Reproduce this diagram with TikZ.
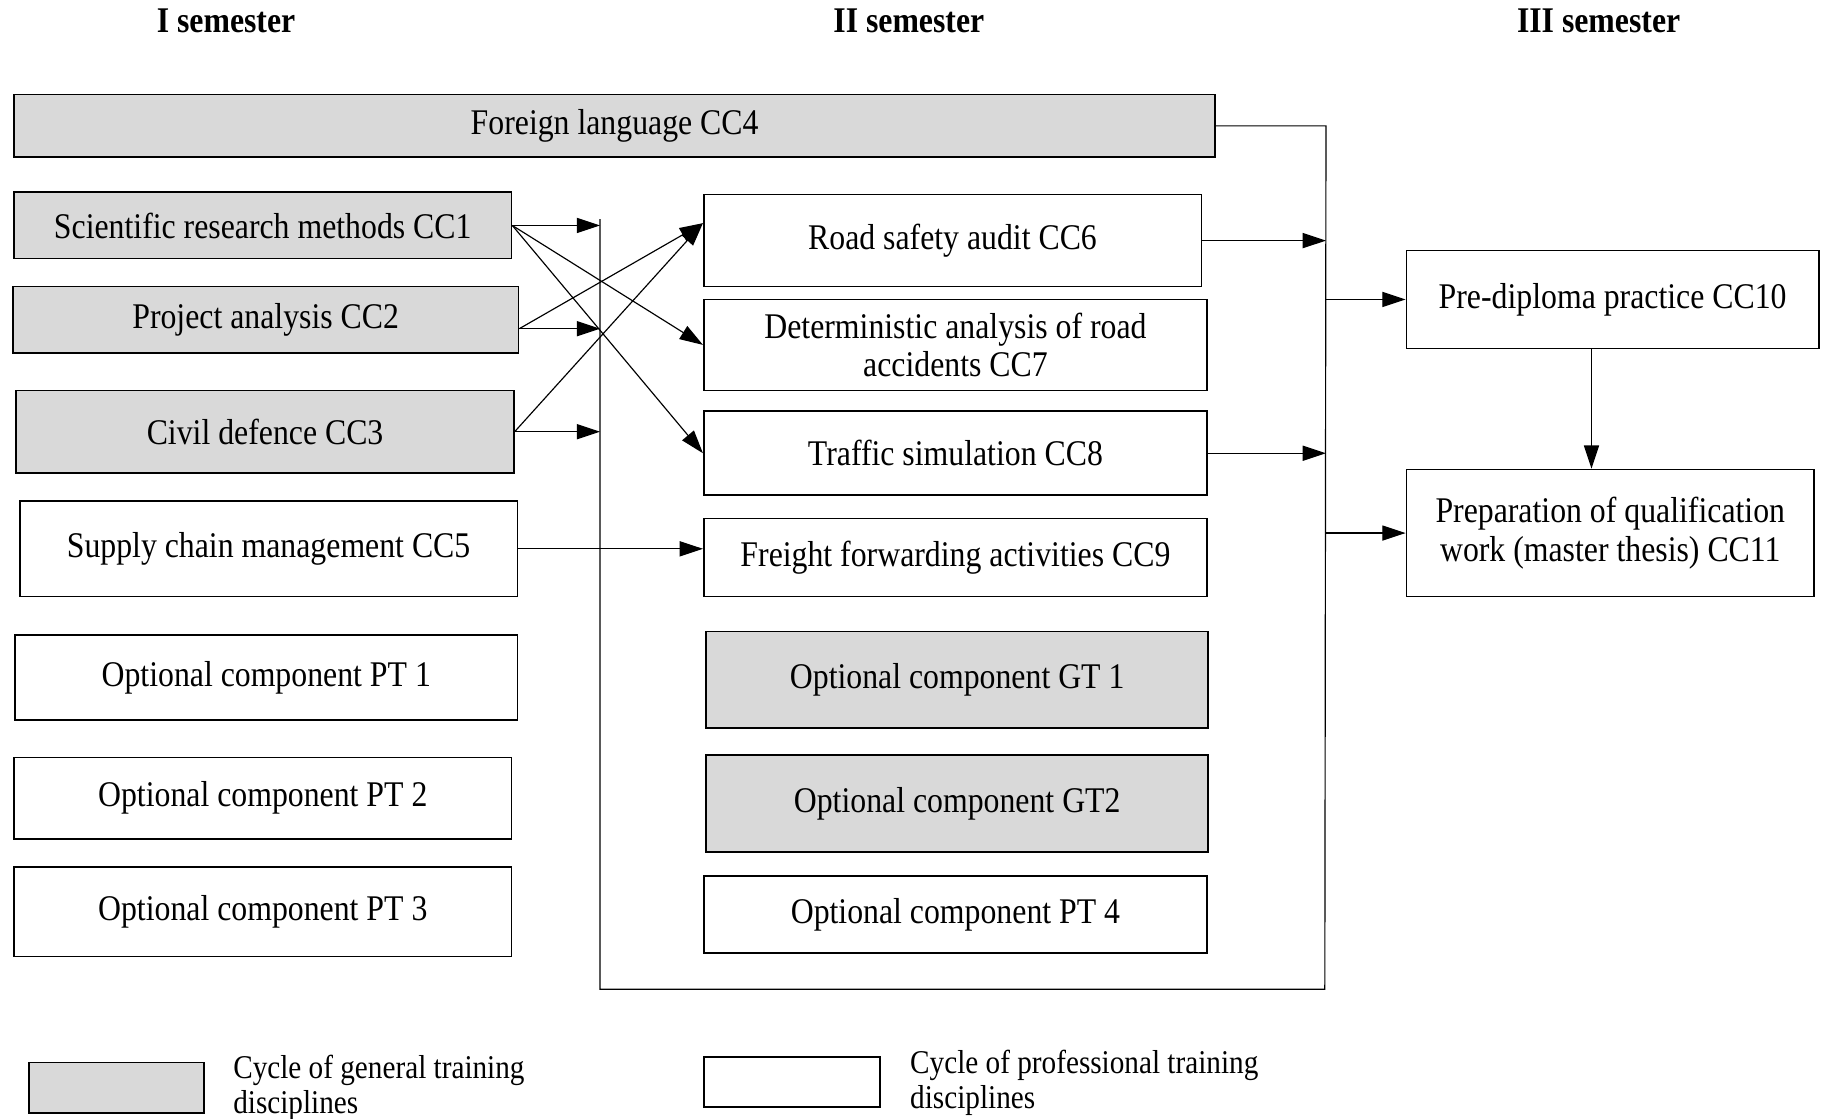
\documentclass[tikz,border=0pt]{standalone}
\usepackage{fontspec}
\setmainfont{Liberation Serif}[FakeStretch=0.88]
\usetikzlibrary{arrows.meta}
\definecolor{cyclegray}{RGB}{217,217,217}

\begin{document}
\begin{tikzpicture}[x=1pt,y=-1pt,
  box/.style={draw, line width=1.4pt, inner sep=0pt, align=center, font=\fontsize{31}{33}\selectfont},
  gbox/.style={box, fill=cyclegray},
  arr/.style={line width=1pt, -{Triangle[length=20pt,width=13pt]}},
  head/.style={font=\fontsize{31}{33}\selectfont\bfseries},
  legend/.style={align=left, anchor=west, inner sep=0pt, font=\fontsize{28.5}{30}\selectfont}]
\useasboundingbox (0,0) rectangle (1568,960);

\node[head] (sem1) at (194,18) {I semester};
\node[head] (sem2) at (780,18) {II semester};
\node[head] (sem3) at (1372,18) {III semester};

\node[gbox, minimum width=1031pt, minimum height=54pt] (cc4) at (527.5,108) {Foreign language CC4};
\node[gbox, minimum width=427pt, minimum height=57pt] (cc1) at (225.5,193.5) {Scientific research methods CC1};
\node[gbox, minimum width=434pt, minimum height=57pt] (cc2) at (228,274.5) {Project analysis CC2};
\node[gbox, minimum width=427pt, minimum height=71pt] (cc3) at (227.5,370.5) {Civil defence CC3};
\node[box, minimum width=427pt, minimum height=82pt] (cc5) at (230.5,471) {Supply chain management CC5};
\node[box, minimum width=431pt, minimum height=73pt] (pt1) at (228.5,581.5) {Optional component PT 1};
\node[box, minimum width=427pt, minimum height=70pt] (pt2) at (225.5,685) {Optional component PT 2};
\node[box, minimum width=427pt, minimum height=77pt] (pt3) at (225.5,782.5) {Optional component PT 3};

\node[box, minimum width=427pt, minimum height=79pt] (cc6) at (817.5,206.5) {Road safety audit CC6};
\node[box, minimum width=432pt, minimum height=78pt] (cc7) at (820,296) {Deterministic analysis of road\\accidents CC7};
\node[box, minimum width=432pt, minimum height=72pt] (cc8) at (820,389) {Traffic simulation CC8};
\node[box, minimum width=432pt, minimum height=67pt] (cc9) at (820,478.5) {Freight forwarding activities CC9};
\node[gbox, minimum width=431pt, minimum height=83pt] (gt1) at (821.5,583.5) {Optional component GT 1};
\node[gbox, minimum width=431pt, minimum height=83pt] (gt2) at (821.5,689.5) {Optional component GT2};
\node[box, minimum width=432pt, minimum height=66pt] (pt4) at (820,785) {Optional component PT 4};

\node[box, minimum width=354pt, minimum height=84pt] (cc10) at (1384,257) {Pre-diploma practice CC10};
\node[box, minimum width=350pt, minimum height=109pt] (cc11) at (1382,457.5) {Preparation of qualification\\work (master thesis) CC11};

\coordinate (tl) at (515,188);
\coordinate (bl) at (515,849);
\coordinate (br) at (1137,849);
\coordinate (tr) at (1138,108);

\draw[line width=1pt] (cc4.east) -- (tr) -- (br) -- (bl) -- (tl);

\draw[arr] (cc1.east) -- (cc1.east -| tl);
\draw[arr] (cc2.-2) -- (cc2.-2 -| tl);
\draw[arr] (cc3.east) -- (cc3.east -| tl);
\draw[arr] (cc1.east) -- (cc7.west);
\draw[arr] (cc1.east) -- (cc8.west);
\draw[arr] (cc2.-2) -- (cc6.176);
\draw[arr] (cc3.east) -- (cc6.176);
\draw[arr] (cc5.east) -- (cc5.east -| cc9.west);

\draw[arr] (cc6.east) -- (cc6.east -| tr);
\draw[arr] (cc8.east) -- (cc8.east -| tr);
\draw[arr] (cc10.west -| tr) -- (cc10.west);
\draw[arr] (cc11.west -| tr) -- (cc11.west);
\draw[arr] (cc10.-113) -- (cc10.-113 |- cc11.north);

\node[gbox, minimum width=150pt, minimum height=43pt] (lgen) at (100,933.5) {};
\node[legend] (lgentext) at (200,933.5) {Cycle of general training\\disciplines};
\node[box, minimum width=151pt, minimum height=43pt] (lprof) at (679.5,928.5) {};
\node[legend] (lproftext) at (781,929.5) {Cycle of professional training\\disciplines};
\end{tikzpicture}
\end{document}
